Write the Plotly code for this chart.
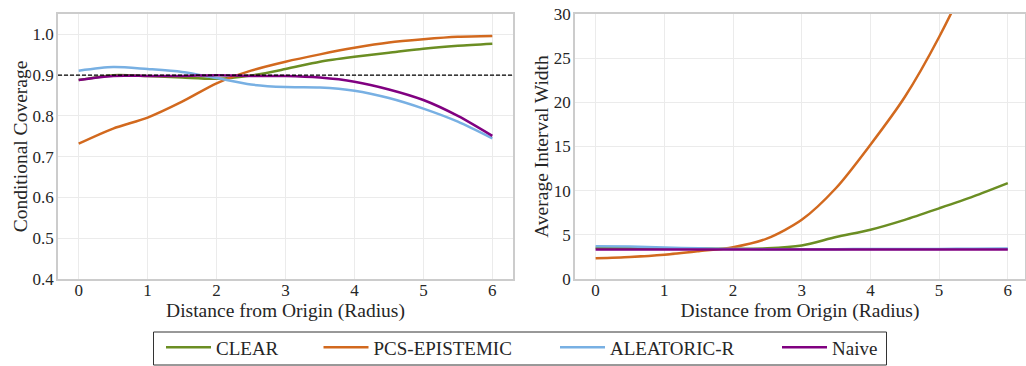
import plotly.graph_objects as go
from plotly.subplots import make_subplots

# Radius grid shared by all curves
radius = [0, 0.5, 1, 1.5, 2, 2.5, 3, 3.5, 4, 4.5, 5, 5.5, 6]

# Conditional coverage per method
cov_clear = [0.888, 0.900, 0.898, 0.894, 0.891, 0.899, 0.915, 0.933, 0.945, 0.955, 0.965, 0.972, 0.977]
cov_pcs = [0.732, 0.769, 0.796, 0.835, 0.880, 0.911, 0.933, 0.951, 0.967, 0.980, 0.988, 0.994, 0.996]
cov_aleatoric = [0.911, 0.920, 0.915, 0.908, 0.893, 0.877, 0.871, 0.870, 0.862, 0.844, 0.818, 0.786, 0.745]
cov_naive = [0.888, 0.898, 0.898, 0.898, 0.900, 0.898, 0.898, 0.894, 0.884, 0.865, 0.839, 0.800, 0.751]

# Average interval width per method
wid_clear = [3.50, 3.48, 3.46, 3.44, 3.42, 3.47, 3.80, 4.75, 5.58, 6.70, 8.00, 9.35, 10.85]
wid_pcs = [2.35, 2.50, 2.75, 3.15, 3.60, 4.60, 6.70, 10.30, 15.20, 20.60, 27.40, 35.50, 45.00]
wid_aleatoric = [3.72, 3.67, 3.58, 3.47, 3.40, 3.38, 3.38, 3.38, 3.39, 3.40, 3.41, 3.42, 3.44]
wid_naive = [3.33, 3.33, 3.33, 3.33, 3.33, 3.33, 3.33, 3.33, 3.33, 3.33, 3.33, 3.33, 3.33]

target_coverage = 0.9

methods = ["CLEAR", "PCS-EPISTEMIC", "ALEATORIC-R", "Naive"]
colors = ["#6b8e23", "#d2691e", "#78b0e3", "#800080"]
coverage = [cov_clear, cov_pcs, cov_aleatoric, cov_naive]
widths = [wid_clear, wid_pcs, wid_aleatoric, wid_naive]

FONT = "Liberation Serif"
TEXT = "#262626"

# Figure geometry (pixels) used to place legend entries in paper coordinates
W, H = 1026, 366
M_L, M_R, M_T, M_B = 0, 1, 14, 87
PW, PH = W - M_L - M_R, H - M_T - M_B


def px_x(px):
    return (px - M_L) / PW


def px_y(py):
    return (H - M_B - py) / PH


fig = make_subplots(rows=1, cols=2, horizontal_spacing=0.06)

legend_ids = ["legend", "legend2", "legend3", "legend4"]
for name, color, cov, wid, lg in zip(methods, colors, coverage, widths, legend_ids):
    fig.add_trace(go.Scatter(x=radius, y=cov, mode="lines", name=name, legend=lg,
                             line=dict(color=color, width=2.5, shape="spline", smoothing=0.8),
                             legendgroup=name), row=1, col=1)
    fig.add_trace(go.Scatter(x=radius, y=wid, mode="lines", name=name, showlegend=False,
                             line=dict(color=color, width=2.5, shape="spline", smoothing=0.8),
                             legendgroup=name), row=1, col=2)

# Nominal coverage level
fig.add_shape(type="line", xref="x domain", yref="y", x0=0, x1=1,
              y0=target_coverage, y1=target_coverage,
              line=dict(color="black", width=1.2, dash="4px,2px"))

# Frame around the legend row
fig.add_shape(type="rect", xref="paper", yref="paper",
              x0=px_x(153.5), x1=px_x(886.5), y0=px_y(332), y1=px_y(365),
              line=dict(color="#333333", width=1), fillcolor="rgba(0,0,0,0)")

axis_common = dict(showgrid=True, gridcolor="#ebebeb", gridwidth=1, zeroline=False,
                   showline=True, linecolor="#cccccc", linewidth=1.5, mirror=True,
                   ticks="", automargin=False,
                   tickfont=dict(family=FONT, size=17, color=TEXT))

fig.update_xaxes(axis_common, range=[-0.3, 6.3], dtick=1, ticklabelstandoff=-5,
                 title=dict(text="Distance from Origin (Radius)", standoff=0,
                            font=dict(family=FONT, size=19.5, color=TEXT)))
fig.update_xaxes(domain=[px_x(58), px_x(513)], row=1, col=1)
fig.update_xaxes(domain=[px_x(575), 1.0], range=[-0.3, 6.25], row=1, col=2)

fig.update_yaxes(axis_common, ticklabelstandoff=-1)
fig.update_yaxes(range=[0.4, 1.05], tickvals=[0.4, 0.5, 0.6, 0.7, 0.8, 0.9, 1.0],
                 ticktext=["0.4", "0.5", "0.6", "0.7", "0.8", "0.9", "1.0"],
                 title=dict(text="Conditional Coverage", standoff=0,
                            font=dict(family=FONT, size=19.5, color=TEXT)),
                 row=1, col=1)
fig.update_yaxes(range=[0, 30], dtick=5,
                 title=dict(text="Average Interval Width", standoff=0,
                            font=dict(family=FONT, size=19.5, color=TEXT)),
                 row=1, col=2)

legend_style = dict(orientation="h", yanchor="middle", xanchor="left",
                    bgcolor="rgba(0,0,0,0)", borderwidth=0, itemwidth=45,
                    font=dict(family=FONT, size=19, color=TEXT))
entry_px = [161, 318.5, 555, 777]
layout_legends = {lg: dict(legend_style, x=px_x(p), y=px_y(347.5))
                  for lg, p in zip(legend_ids, entry_px)}

fig.update_layout(
    width=W, height=H,
    margin=dict(l=M_L, r=M_R, t=M_T, b=M_B, autoexpand=False),
    plot_bgcolor="white", paper_bgcolor="white",
    font=dict(family=FONT, color=TEXT),
    **layout_legends,
)

fig.write_html("out.html")
